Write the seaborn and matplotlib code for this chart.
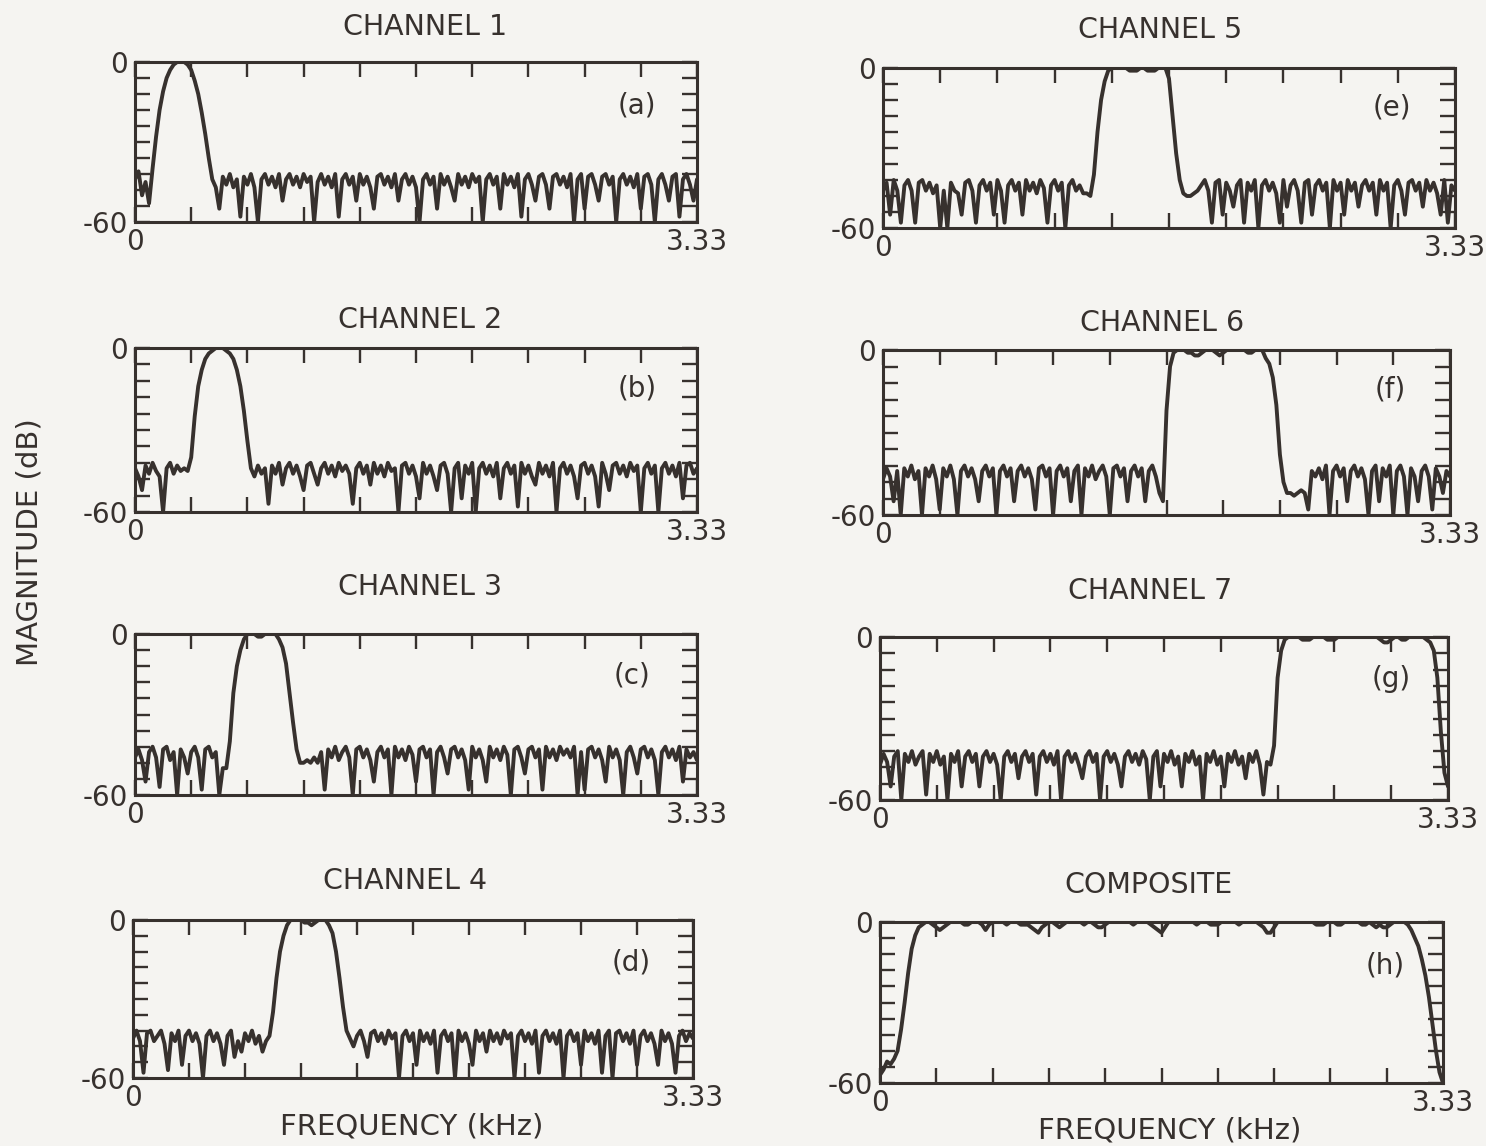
import numpy as np
import matplotlib
matplotlib.use("Agg")
import matplotlib.pyplot as plt
import seaborn as sns

# Magnitude responses (dB), sampled uniformly from 0 to 3.33 kHz
F_MAX = 3.33

CH1 = [-44, -41, -50, -45, -53, -40, -28, -18, -11, -6, -3, -1, 0, 0, 0, -1,
       -3, -7, -12, -19, -27, -36, -44, -47, -55, -43, -46, -42, -47, -44, -58, -43,
       -46, -42, -47, -60, -44, -42, -46, -43, -47, -42, -52, -44, -42, -46, -43, -47,
       -42, -45, -43, -60, -45, -42, -46, -43, -47, -42, -58, -44, -42, -46, -43, -52,
       -42, -46, -43, -47, -55, -43, -42, -46, -43, -47, -42, -52, -44, -42, -46, -43,
       -47, -60, -44, -42, -46, -43, -55, -42, -46, -43, -47, -52, -42, -46, -43, -47,
       -42, -45, -43, -60, -44, -42, -46, -43, -55, -42, -46, -43, -47, -42, -58, -44,
       -42, -46, -52, -43, -42, -46, -55, -43, -42, -46, -43, -47, -42, -60, -44, -42,
       -55, -43, -42, -46, -52, -43, -42, -46, -43, -60, -44, -42, -46, -43, -47, -42,
       -55, -43, -42, -46, -60, -44, -42, -46, -52, -43, -42, -58, -44, -42, -46, -52,
       -44]

CH2 = [-44, -47, -52, -43, -46, -42, -45, -47, -60, -44, -42, -46, -43, -45, -44, -45,
       -40, -25, -14, -8, -4, -2, -1, 0, 0, 0, -1, -2, -4, -8, -14, -23,
       -34, -44, -47, -43, -46, -44, -57, -43, -46, -42, -50, -44, -42, -46, -43, -47,
       -52, -43, -42, -46, -50, -44, -42, -46, -43, -47, -42, -45, -43, -46, -57, -44,
       -42, -46, -43, -50, -42, -46, -43, -47, -42, -45, -44, -60, -43, -42, -46, -43,
       -47, -55, -42, -46, -43, -47, -52, -43, -42, -46, -60, -44, -42, -55, -43, -46,
       -42, -60, -44, -42, -46, -43, -47, -42, -55, -44, -42, -46, -43, -58, -42, -46,
       -43, -47, -50, -42, -46, -43, -47, -42, -60, -44, -42, -46, -43, -47, -55, -43,
       -42, -46, -43, -47, -58, -42, -46, -52, -43, -42, -46, -43, -47, -42, -45, -43,
       -60, -44, -42, -46, -43, -60, -44, -42, -46, -43, -47, -42, -55, -43, -42, -46,
       -44]

CH3 = [-46, -43, -47, -55, -44, -42, -46, -57, -43, -42, -47, -44, -60, -43, -46, -52,
       -44, -42, -46, -58, -43, -42, -46, -44, -60, -50, -50, -40, -22, -12, -6, -2,
       0, 0, 0, -1, -1, 0, 0, 0, 0, -2, -5, -11, -22, -33, -43, -48,
       -48, -47, -48, -46, -48, -44, -58, -43, -46, -42, -47, -44, -42, -46, -60, -43,
       -42, -46, -43, -47, -55, -44, -42, -46, -43, -60, -42, -46, -43, -47, -42, -45,
       -55, -43, -42, -46, -43, -60, -44, -42, -46, -52, -43, -42, -46, -43, -47, -58,
       -42, -46, -43, -47, -55, -42, -46, -43, -47, -42, -45, -60, -43, -42, -46, -52,
       -43, -42, -46, -43, -58, -42, -46, -43, -47, -42, -45, -43, -46, -42, -60, -44,
       -58, -43, -42, -46, -43, -47, -55, -42, -46, -43, -47, -60, -44, -42, -46, -52,
       -43, -42, -46, -43, -47, -60, -44, -42, -46, -43, -47, -42, -55, -43, -46, -44,
       -47]

CH4 = [-45, -42, -46, -58, -43, -42, -46, -44, -42, -47, -57, -43, -46, -42, -55, -44,
       -42, -46, -43, -47, -60, -44, -42, -46, -43, -47, -55, -44, -42, -52, -46, -50,
       -43, -46, -42, -47, -44, -50, -46, -44, -35, -22, -12, -6, -2, 0, 0, 0,
       0, -1, -1, -2, -1, 0, 0, 0, -2, -5, -12, -22, -33, -42, -45, -48,
       -44, -42, -46, -52, -43, -42, -46, -43, -47, -42, -45, -43, -60, -44, -42, -46,
       -43, -55, -42, -46, -43, -47, -42, -58, -44, -42, -46, -43, -60, -42, -46, -43,
       -47, -55, -42, -46, -43, -50, -42, -46, -43, -47, -42, -45, -43, -60, -44, -42,
       -46, -43, -47, -42, -58, -44, -42, -46, -43, -47, -42, -60, -44, -42, -46, -43,
       -55, -42, -46, -43, -47, -42, -58, -44, -42, -60, -43, -42, -46, -43, -47, -42,
       -55, -44, -42, -46, -43, -47, -55, -42, -46, -43, -47, -58, -44, -42, -46, -43,
       -45]

CH5 = [-46, -43, -55, -42, -46, -58, -44, -42, -46, -58, -43, -42, -46, -43, -47, -44,
       -60, -46, -60, -43, -46, -47, -55, -43, -42, -46, -58, -44, -42, -46, -43, -55,
       -42, -46, -58, -44, -42, -46, -43, -55, -42, -46, -43, -47, -42, -45, -58, -44,
       -42, -46, -43, -60, -44, -42, -46, -44, -47, -47, -48, -40, -24, -12, -5, -1,
       0, 0, 0, 0, 0, -1, -1, -1, 0, 0, -1, -1, -1, 0, 0, 0,
       -4, -18, -32, -42, -47, -48, -48, -47, -46, -44, -42, -46, -58, -43, -42, -55,
       -43, -46, -52, -44, -42, -58, -43, -46, -42, -60, -44, -42, -46, -43, -47, -58,
       -42, -52, -44, -42, -46, -58, -43, -42, -55, -44, -42, -46, -43, -60, -42, -46,
       -43, -55, -42, -46, -43, -52, -44, -42, -46, -43, -55, -42, -46, -43, -60, -44,
       -42, -46, -55, -43, -42, -46, -43, -52, -42, -46, -43, -47, -55, -42, -58, -44,
       -46]

CH6 = [-47, -43, -46, -55, -44, -60, -43, -46, -42, -47, -44, -60, -43, -46, -42, -47,
       -58, -43, -46, -42, -47, -60, -44, -42, -46, -43, -47, -55, -44, -42, -46, -43,
       -60, -44, -42, -46, -43, -55, -44, -42, -46, -43, -47, -58, -43, -42, -46, -43,
       -60, -44, -42, -46, -43, -55, -44, -42, -60, -43, -46, -42, -47, -44, -42, -46,
       -60, -43, -42, -46, -43, -55, -44, -42, -46, -43, -55, -44, -42, -46, -52, -55,
       -22, -6, -1, 0, 0, 0, -1, -1, -2, -2, -1, 0, 0, 0, -1, -2,
       -1, 0, 0, 0, 0, 0, 0, -1, -1, 0, 0, 0, -3, -5, -10, -20,
       -38, -48, -52, -52, -53, -52, -51, -52, -58, -44, -46, -43, -47, -42, -60, -44,
       -42, -46, -43, -55, -44, -42, -46, -43, -47, -60, -44, -42, -55, -43, -46, -42,
       -60, -44, -42, -46, -60, -43, -46, -55, -44, -42, -46, -58, -43, -46, -52, -44,
       -46]

CH7 = [-47, -43, -46, -55, -44, -42, -60, -43, -46, -42, -47, -44, -42, -58, -43, -46,
       -42, -47, -44, -60, -43, -46, -42, -55, -44, -42, -46, -43, -55, -44, -42, -46,
       -43, -47, -60, -44, -42, -46, -43, -52, -44, -42, -46, -43, -58, -44, -42, -46,
       -43, -47, -42, -60, -44, -42, -46, -43, -47, -52, -44, -42, -46, -43, -60, -44,
       -42, -46, -43, -47, -55, -44, -42, -46, -43, -47, -42, -45, -60, -44, -42, -55,
       -43, -46, -42, -47, -44, -55, -43, -46, -42, -47, -44, -60, -43, -46, -42, -47,
       -44, -55, -43, -46, -42, -47, -44, -52, -43, -46, -42, -47, -58, -46, -47, -40,
       -15, -5, -1, 0, 0, 0, 0, -1, -1, -1, 0, 0, 0, 0, -1, -1,
       -1, 0, 0, 0, 0, 0, 0, 0, 0, 0, 0, 0, 0, -1, -2, -2,
       -1, 0, 0, -1, -1, 0, 0, 0, 0, 0, -1, -2, -5, -15, -35, -50,
       -55]

COMPOSITE = [-57, -55, -52, -53, -51, -48, -40, -30, -19, -10, -5, -2, -1, 0, 0, -1,
             -2, -3, -2, -1, 0, 0, 0, 0, -1, -1, 0, 0, 0, -1, -3, -1,
             0, 0, 0, 0, -1, 0, 0, 0, -1, -1, -1, -2, -3, -4, -2, -1,
             0, 0, -1, -2, -1, 0, 0, 0, 0, 0, -1, 0, 0, -1, -2, -2,
             -1, 0, 0, 0, 0, 0, 0, 0, -1, 0, 0, 0, 0, -1, -2, -3,
             -4, -2, 0, 0, 0, 0, 0, 0, 0, 0, -1, 0, 0, 0, -1, -1,
             -1, 0, 0, 0, 0, 0, -1, 0, 0, 0, 0, 0, -1, -2, -4, -4,
             -2, 0, 0, 0, 0, 0, 0, 0, 0, 0, 0, 0, -1, -1, -1, 0,
             0, 0, -1, -1, 0, 0, 0, 0, 0, -1, -1, 0, -1, -2, -1, -2,
             -2, -1, 0, 0, 0, 0, -1, -3, -6, -9, -14, -20, -28, -38, -48, -56,
             -60]

TITLES = ["CHANNEL 1", "CHANNEL 2", "CHANNEL 3", "CHANNEL 4",
          "CHANNEL 5", "CHANNEL 6", "CHANNEL 7", "COMPOSITE"]
TAGS = ["(a)", "(b)", "(c)", "(d)", "(e)", "(f)", "(g)", "(h)"]
SERIES = [CH1, CH2, CH3, CH4, CH5, CH6, CH7, COMPOSITE]

X_TICK_LABELS = ["0"] + [""] * 9 + ["3.33"]
Y_TICK_LABELS = ["-60"] + [""] * 9 + ["0"]

# ---- page layout (pixels, origin at top-left) ----
W, H = 1486, 1146
PAPER = "#f5f4f1"
INK = "#37312e"

# frame boxes: (left, top, right, bottom)
BOXES = [(135, 62, 697, 222), (135, 348, 697, 512), (135, 634, 697, 795), (133, 920, 693, 1078),
         (883, 68, 1455, 228), (883, 350, 1450, 515), (880, 637, 1448, 800), (880, 922, 1443, 1083)]
TITLE_POS = [(425, 27), (420, 320), (420, 587), (405, 881),
             (1160, 30), (1162, 323), (1150, 591), (1148, 885)]
TAG_POS = [(0.893, 0.73), (0.893, 0.756), (0.884, 0.745), (0.89, 0.73),
           (0.89, 0.756), (0.894, 0.76), (0.90, 0.74), (0.897, 0.73)]

sns.set_style("white")
plt.rcParams["font.family"] = ["DejaVu Sans"]

fig = plt.figure(figsize=(W / 100, H / 100), dpi=100, facecolor=PAPER)

for mag, title, tag, box, tpos, gpos in zip(SERIES, TITLES, TAGS, BOXES, TITLE_POS, TAG_POS):
    x0, y0, x1, y1 = box
    ax = fig.add_axes([x0 / W, 1 - y1 / H, (x1 - x0) / W, (y1 - y0) / H])
    ax.set_facecolor(PAPER)
    freq = np.linspace(0, F_MAX, len(mag))
    sns.lineplot(x=freq, y=mag, ax=ax, color=INK, linewidth=2.8,
                 estimator=None, sort=False)
    ax.set_xlim(0, F_MAX)
    ax.set_ylim(-60, 0)
    ax.set_xticks(np.linspace(0, F_MAX, 11))
    ax.set_xticklabels(X_TICK_LABELS)
    ax.set_yticks(np.arange(-60, 1, 6))
    ax.set_yticklabels(Y_TICK_LABELS)
    ax.set_xlabel("")
    ax.set_ylabel("")
    ax.tick_params(axis="both", direction="in", top=True, bottom=True,
                   left=True, right=True, length=11, width=1.7,
                   color=INK, labelcolor=INK, labelsize=20)
    ax.tick_params(axis="x", pad=4)
    ax.tick_params(axis="y", pad=5)
    for sp in ax.spines.values():
        sp.set_color(INK)
        sp.set_linewidth(2.2)
    ax.text(gpos[0], gpos[1], tag, transform=ax.transAxes, ha="center", va="center",
            fontsize=20, color=INK)
    fig.text(tpos[0] / W, 1 - tpos[1] / H, title, ha="center", va="center",
             fontsize=20.5, color=INK)

fig.text(412 / W, 1 - 1126 / H, "FREQUENCY (kHz)", ha="center", va="center",
         fontsize=21, color=INK)
fig.text(1170 / W, 1 - 1130 / H, "FREQUENCY (kHz)", ha="center", va="center",
         fontsize=21, color=INK)
fig.text(30 / W, 1 - 542 / H, "MAGNITUDE (dB)", ha="center", va="center",
         rotation=90, fontsize=21, color=INK)

fig.savefig("out.png", dpi=100, facecolor=PAPER)
